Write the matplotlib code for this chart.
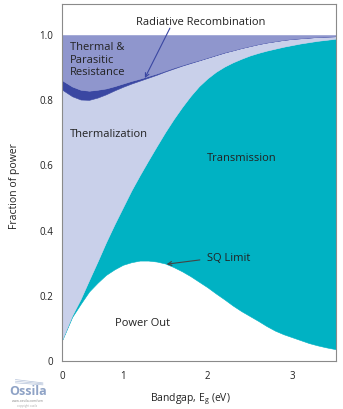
import numpy as np
import matplotlib
matplotlib.use("Agg")
import matplotlib.pyplot as plt

plt.rcParams['font.family'] = ['Open Sans', 'DejaVu Sans']
plt.rcParams['mathtext.default'] = 'regular'

# Bandgap (eV) and the fraction of incident solar power in each loss channel
bandgap = [0.28, 0.3, 0.4, 0.5, 0.6, 0.7, 0.8, 0.9, 1.0, 1.1, 1.2, 1.3, 1.4, 1.5,
           1.6, 1.7, 1.8, 1.9, 2.0, 2.1, 2.2, 2.3, 2.4, 2.5, 2.6, 2.7, 2.8, 2.9,
           3.0, 3.1, 3.2, 3.3, 3.4, 3.5, 3.52]

power_out = [0.064, 0.075, 0.135, 0.175, 0.213, 0.240, 0.264, 0.281, 0.295, 0.303,
             0.308, 0.308, 0.305, 0.299, 0.288, 0.275, 0.260, 0.243, 0.226, 0.207,
             0.189, 0.170, 0.153, 0.138, 0.123, 0.107, 0.093, 0.082, 0.073, 0.064,
             0.055, 0.048, 0.042, 0.037, 0.036]

transmission = [0.000, 0.002, 0.005, 0.015, 0.035, 0.065, 0.100, 0.138, 0.176, 0.220,
                0.262, 0.307, 0.354, 0.403, 0.454, 0.504, 0.553, 0.600, 0.641, 0.680,
                0.714, 0.746, 0.774, 0.799, 0.822, 0.845, 0.865, 0.882, 0.896, 0.910,
                0.923, 0.934, 0.943, 0.951, 0.953]

thermalization = [0.769, 0.752, 0.672, 0.612, 0.553, 0.503, 0.454, 0.411, 0.370, 0.328,
                  0.290, 0.254, 0.219, 0.186, 0.155, 0.127, 0.101, 0.079, 0.063, 0.051,
                  0.043, 0.037, 0.033, 0.029, 0.027, 0.025, 0.023, 0.021, 0.019, 0.016,
                  0.014, 0.012, 0.010, 0.008, 0.008]

radiative = [0.029, 0.029, 0.030, 0.030, 0.028, 0.024, 0.018, 0.013, 0.010, 0.008,
             0.006, 0.005, 0.004, 0.003, 0.003, 0.002, 0.002, 0.001, 0.001, 0.001,
             0.001, 0.000, 0.000, 0.000, 0.000, 0.000, 0.000, 0.000, 0.000, 0.000,
             0.000, 0.000, 0.000, 0.000, 0.000]

# Whatever is left up to 100 % goes to thermal & parasitic resistance
resistance = 1.0 - (np.array(power_out) + np.array(transmission)
                    + np.array(thermalization) + np.array(radiative))

x_ticks = [0.28, 1, 2, 3]
x_tick_labels = ['0', '1', '2', '3']
y_ticks = [0, 0.2, 0.4, 0.6, 0.8, 1.0]
y_tick_labels = ['0', '0.2', '0.4', '0.6', '0.8', '1.0']

colors = ['#ffffff', '#00b2c3', '#c9d0ea', '#3a47a2', '#8f96cd']

fig = plt.figure(figsize=(3.43, 4.09), dpi=100)
ax = fig.add_axes([0.1808, 0.1174, 0.7988, 0.8728])

polys = ax.stackplot(bandgap, power_out, transmission, thermalization, radiative,
                     resistance, colors=colors, linewidth=0.4)
for p, c in zip(polys, colors):
    p.set_edgecolor(c)
    p.set_antialiased(True)

ax.set_xlim(0.28, 3.52)
ax.set_ylim(0, 1.095)
ax.set_xticks(x_ticks)
ax.set_xticklabels(x_tick_labels)
ax.set_yticks(y_ticks)
ax.set_yticklabels(y_tick_labels)
ax.tick_params(axis='both', length=0, labelsize=7, colors='#222222')
ax.tick_params(axis='y', pad=6.5)
ax.tick_params(axis='x', pad=7)
for s in ax.spines.values():
    s.set_color('#8a8a8a')
    s.set_linewidth(0.8)
    s.set_zorder(5)

ax.set_ylabel('Fraction of power', fontsize=7.5, color='#222222')
ax.yaxis.set_label_coords(-0.152, 0.49)
ax.set_xlabel('Bandgap, E$_g$ (eV)', fontsize=7.5, color='#222222')
ax.xaxis.set_label_coords(0.468, -0.085)

txt = dict(fontsize=8, color='#222222')
ax.text(1.922, 1.031, 'Radiative Recombination', ha='center', va='baseline', **txt)
ax.text(0.374, 0.8764, 'Thermal &\nParasitic\nResistance', ha='left', va='baseline',
        linespacing=1.2, **txt)
ax.text(0.374, 0.688, 'Thermalization', ha='left', va='baseline', **txt)
ax.text(1.995, 0.614, 'Transmission', ha='left', va='baseline', **txt)
ax.text(1.228, 0.108, 'Power Out', ha='center', va='baseline', **txt)
ax.text(1.989, 0.3077, 'SQ Limit', ha='left', va='baseline', **txt)

ax.annotate('', xy=(1.26, 0.868), xytext=(1.556, 1.021),
            arrowprops=dict(arrowstyle='->', color='#3a47a2', lw=0.8,
                            mutation_scale=7, shrinkA=0, shrinkB=0))
ax.annotate('', xy=(1.517, 0.297), xytext=(1.91, 0.310),
            arrowprops=dict(arrowstyle='->', color='#444444', lw=0.8,
                            mutation_scale=7, shrinkA=0, shrinkB=0))

# Ossila logo mark
fig.text(0.027, 0.034, 'Ossila', fontsize=9, fontweight='bold', color='#8fa3c6')
fig.text(0.036, 0.016, 'www.ossila.com/sen', fontsize=2.4, color='#8a8a8a')
fig.text(0.05, 0.006, 'copyright ossila', fontsize=2.0, color='#aaaaaa')
for dy in (0.0, 0.004, 0.008):
    fig.add_artist(matplotlib.lines.Line2D([0.045, 0.125], [0.064 + dy, 0.059 + dy * 0.6],
                                           transform=fig.transFigure, color='#b5c3da', lw=0.5))

fig.savefig('out.png', dpi=100)
